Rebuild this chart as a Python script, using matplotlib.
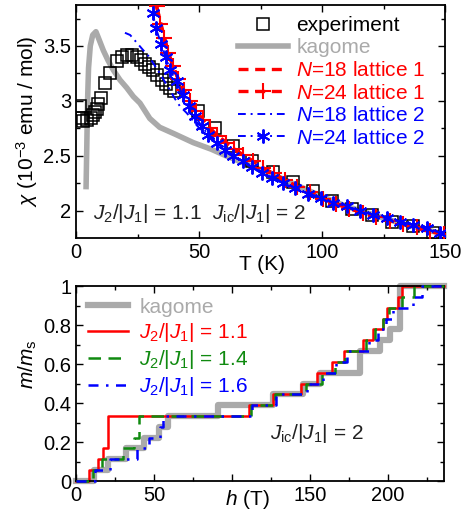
import matplotlib
matplotlib.use('Agg')
import matplotlib.pyplot as plt
from matplotlib.legend_handler import HandlerLine2D
from matplotlib.ticker import MultipleLocator, FuncFormatter

# ---------------- data: susceptibility ----------------
exp_T = [1.6, 2.3, 3.0, 4.6, 6.3, 7.0, 7.7, 8.5, 9.1, 10.0, 11.8, 13.8, 16.5, 18.6,
         20.6, 22.6, 24.7, 26.3, 28.0, 29.7, 31.4, 32.8, 34.8, 36.6, 38.2, 40.0,
         49.7, 56.5, 63.8, 71.4, 80.0, 88.3, 96.5, 103.9, 112.0, 120.2, 128.3,
         137.1, 145.3]
exp_chi = [2.95, 2.84, 2.82, 2.83, 2.84, 2.87, 2.90, 2.93, 2.97, 3.03, 3.16, 3.25,
           3.36, 3.40, 3.42, 3.42, 3.40, 3.37, 3.34, 3.31, 3.28, 3.24, 3.19, 3.15,
           3.12, 3.09, 2.91, 2.75, 2.59, 2.45, 2.35, 2.26, 2.18, 2.09, 2.02, 1.96,
           1.90, 1.86, 1.80]

kag_T = [4.1, 4.4, 4.7, 5.1, 5.8, 6.8, 8.1, 9.0, 11.1, 13.0, 15.2, 17.9, 20.6, 23.3,
         26.0, 28.0, 30.0, 34.0, 40.0, 47.7, 55.0, 61.0, 72.0, 80.0, 90.0, 100.0,
         110.0, 120.0, 130.0, 140.0, 150.0]
kag_chi = [2.22, 2.60, 3.00, 3.30, 3.50, 3.60, 3.63, 3.58, 3.46, 3.37, 3.28, 3.19,
           3.12, 3.04, 2.98, 2.91, 2.84, 2.76, 2.70, 2.62, 2.56, 2.50, 2.40, 2.33,
           2.23, 2.13, 2.04, 1.97, 1.90, 1.84, 1.785]

l1n18_T = [32.8, 34.8, 36.6, 38.2, 40.2, 42.3, 45.0, 47.7, 50.4, 53.8, 57.2, 61.3,
           66.7, 72.1, 77.5, 85.6, 97.8, 111.4, 124.9, 138.5, 150.0]
l1n18_chi = [3.86, 3.68, 3.52, 3.39, 3.27, 3.16, 3.04, 2.95, 2.86, 2.77, 2.69, 2.62,
             2.52, 2.45, 2.37, 2.27, 2.13, 2.02, 1.93, 1.84, 1.78]

l1n24_T = [32.8, 34.3, 35.9, 37.6, 39.4, 41.6, 43.8, 46.2, 48.8, 51.5, 54.3, 57.5,
           60.8, 64.3, 68.0, 72.0, 76.0, 80.3, 85.0, 90.0, 95.0, 100.3, 105.7, 111.0,
           116.5, 122.0, 127.5, 133.0, 138.5, 144.0, 149.5]
l1n24_chi = [3.86, 3.70, 3.57, 3.44, 3.32, 3.20, 3.10, 3.00, 2.91, 2.83, 2.75, 2.68,
             2.62, 2.56, 2.51, 2.45, 2.39, 2.34, 2.28, 2.22, 2.17, 2.11, 2.06, 2.02,
             1.98, 1.94, 1.91, 1.88, 1.85, 1.82, 1.785]

l2n18_T = [19.9, 22.0, 24.7, 27.0, 29.4, 31.5, 34.1, 36.5, 38.2, 40.2, 42.3, 45.0,
           49.0, 53.1, 58.0, 64.0, 72.0, 80.0, 90.0, 100.0, 110.0, 120.0, 130.0,
           140.0, 150.0]
l2n18_chi = [3.62, 3.60, 3.53, 3.47, 3.41, 3.34, 3.25, 3.16, 3.10, 3.02, 2.95, 2.89,
             2.78, 2.68, 2.60, 2.50, 2.40, 2.30, 2.20, 2.11, 2.04, 1.97, 1.91, 1.85,
             1.79]

l2n24_T = [31.2, 32.5, 34.6, 36.5, 38.2, 40.9, 43.4, 45.9, 48.4, 51.1, 53.8, 57.2,
           60.6, 63.9, 67.8, 71.4, 75.5, 79.5, 84.3, 89.0, 94.4, 99.5, 104.6, 110.0,
           115.4, 120.9, 126.3, 131.7, 137.1, 142.6, 148.0]
l2n24_chi = [3.80, 3.66, 3.52, 3.40, 3.28, 3.18, 3.05, 2.95, 2.86, 2.77, 2.69, 2.62,
             2.55, 2.50, 2.45, 2.40, 2.34, 2.30, 2.25, 2.21, 2.15, 2.12, 2.07, 2.04,
             2.00, 1.96, 1.93, 1.90, 1.87, 1.84, 1.80]

# ---------------- data: magnetization steps ----------------
kag_h = [0, 11.8, 20.3, 32.0, 43.8, 53.4, 58.8, 91.2, 126.5, 145.7, 156.4, 182.0,
         194.7, 201.3, 207.5, 236]
kag_m = [0, 0.056, 0.111, 0.167, 0.222, 0.278, 0.333, 0.389, 0.444, 0.5, 0.556,
         0.667, 0.722, 0.778, 1.0, 1.0]

r_h = [0, 8.5, 13.9, 17.1, 20.7, 111.0, 126.5, 144.4, 154.7, 164.0, 172.0, 184.2,
       190.2, 197.0, 199.5, 206.3, 209.0, 236]
r_m = [0, 0.056, 0.111, 0.167, 0.333, 0.389, 0.444, 0.5, 0.556, 0.611, 0.667,
       0.722, 0.778, 0.833, 0.889, 0.944, 1.0, 1.0]

g_h = [0, 11.1, 16.5, 30.3, 37.2, 40.4, 112.0, 127.6, 147.2, 157.5, 166.4, 172.4,
       186.0, 191.5, 197.0, 200.5, 209.0, 217.0, 236]
g_m = [0, 0.056, 0.111, 0.167, 0.222, 0.333, 0.389, 0.444, 0.5, 0.556, 0.611,
       0.667, 0.722, 0.778, 0.833, 0.889, 0.944, 1.0, 1.0]

b_h = [0, 12.2, 22.0, 39.0, 46.6, 53.6, 55.5, 113.0, 128.0, 148.0, 158.5, 167.0,
       173.5, 188.0, 193.5, 199.0, 203.0, 216.0, 222.0, 236]
b_m = [0, 0.056, 0.111, 0.167, 0.222, 0.278, 0.333, 0.389, 0.444, 0.5, 0.556,
       0.611, 0.667, 0.722, 0.778, 0.833, 0.889, 0.944, 1.0, 1.0]

# ---------------- style ----------------
plt.rcParams.update({
    'font.family': ['Liberation Sans', 'DejaVu Sans'],
    'mathtext.fontset': 'custom',
    'mathtext.rm': 'Liberation Sans',
    'mathtext.it': 'Liberation Sans:italic',
    'mathtext.bf': 'Liberation Sans:bold',
    'font.size': 15,
    'xtick.labelsize': 14.5, 'ytick.labelsize': 14.5,
    'xtick.direction': 'in', 'ytick.direction': 'in',
    'xtick.top': True, 'ytick.right': True,
    'xtick.major.size': 5, 'ytick.major.size': 5,
    'xtick.minor.size': 3, 'ytick.minor.size': 3,
    'xtick.major.width': 1.0, 'ytick.major.width': 1.0,
    'xtick.minor.width': 1.0, 'ytick.minor.width': 1.0,
    'axes.linewidth': 1.3,
})
GRAY = '#aaaaaa'
RED = '#ff0000'
BLUE = '#0000ff'
GREEN = '#108a10'

fig = plt.figure(figsize=(4.64, 5.11), dpi=100)
ax1 = fig.add_axes([76/464, 1-238/511, 369/464, 233/511])
ax2 = fig.add_axes([76/464, 1-481/511, 368/464, 195/511])

fmt = FuncFormatter(lambda v, p: '%g' % v)

# ---- top panel ----
hk, = ax1.plot(kag_T, kag_chi, color=GRAY, lw=4, label='kagome', zorder=1)
he, = ax1.plot(exp_T, exp_chi, ls='none', marker='s', ms=8, mfc='none', mec='k',
               mew=1.1, label='experiment', zorder=2)
hr18, = ax1.plot(l1n18_T, l1n18_chi, color=RED, ls=(0, (3, 2)), lw=2.4,
                 label='$N$=18 lattice 1', zorder=3)
hr24, = ax1.plot(l1n24_T, l1n24_chi, color=RED, ls=(0, (3, 2)), lw=2.4, marker='+',
                 ms=11, mew=1.5, label='$N$=24 lattice 1', zorder=3)
hb18, = ax1.plot(l2n18_T, l2n18_chi, color=BLUE, ls=(0, (4, 2.5, 1, 2.5)), lw=1.4,
                 label='$N$=18 lattice 2', zorder=4)
hb24, = ax1.plot(l2n24_T, l2n24_chi, color=BLUE, ls=(0, (4, 2.5, 1, 2.5)), lw=1.4,
                 marker=(6, 2, 0), ms=10, mew=1.4, label='$N$=24 lattice 2', zorder=5)

ax1.set_xlim(0, 150)
ax1.set_ylim(1.752, 3.873)
ax1.xaxis.set_major_locator(MultipleLocator(50))
ax1.xaxis.set_minor_locator(MultipleLocator(25))
ax1.yaxis.set_major_locator(MultipleLocator(0.5))
ax1.yaxis.set_minor_locator(MultipleLocator(0.25))
ax1.yaxis.set_major_formatter(fmt)
ax1.tick_params(which='both', top=True, right=True)
ax1.set_xlabel('T (K)')
ax1.xaxis.set_label_coords(0.504, -0.075)
ax1.set_ylabel(r'$\chi$ (10$^{-3}$ emu / mol)')
ax1.yaxis.set_label_coords(-0.097, 0.5)

leg1 = ax1.legend([he, hk, hr18, hr24, hb18, hb24],
                  ['experiment', 'kagome', '$N$=18 lattice 1', '$N$=24 lattice 1',
                   '$N$=18 lattice 2', '$N$=24 lattice 2'],
                  loc='upper left', bbox_to_anchor=(0.439, 0.953), frameon=False,
                  borderpad=0, borderaxespad=0, handlelength=2.4, handletextpad=0.4,
                  labelspacing=0.17,
                  handler_map={he: HandlerLine2D(numpoints=1)})
for t, c in zip(leg1.get_texts(), ['k', GRAY, RED, RED, BLUE, BLUE]):
    t.set_color(c)

ax1.text(0.046, 0.107, r'$J_2/|J_1|$ = 1.1  $J_{\mathrm{ic}}/|J_1|$ = 2',
         transform=ax1.transAxes, va='center', ha='left', color='#222222')

# ---- bottom panel ----
ax2.plot(kag_h, kag_m, drawstyle='steps-post', color=GRAY, lw=4.5, label='kagome',
         zorder=1, clip_on=False)
ax2.plot(r_h, r_m, drawstyle='steps-post', color=RED, lw=1.8,
         label=r'$J_2/|J_1|$ = 1.1', zorder=2, clip_on=False)
ax2.plot(g_h, g_m, drawstyle='steps-post', color=GREEN, lw=1.8, ls=(0, (5, 3)),
         label=r'$J_2/|J_1|$ = 1.4', zorder=3, clip_on=False)
ax2.plot(b_h, b_m, drawstyle='steps-post', color=BLUE, lw=1.8, ls=(0, (4, 3, 1, 3)),
         label=r'$J_2/|J_1|$ = 1.6', zorder=4, clip_on=False)

ax2.set_xlim(0, 236)
ax2.set_ylim(0, 1)
ax2.xaxis.set_major_locator(MultipleLocator(50))
ax2.xaxis.set_minor_locator(MultipleLocator(25))
ax2.yaxis.set_major_locator(MultipleLocator(0.2))
ax2.yaxis.set_minor_locator(MultipleLocator(0.1))
ax2.yaxis.set_major_formatter(fmt)
ax2.xaxis.set_major_formatter(FuncFormatter(lambda v, p: '' if abs(v - 100) < 1e-6 else '%g' % v))
ax2.tick_params(which='both', top=True, right=True)
ax2.set_xlabel('$h$ (T)')
ax2.xaxis.set_label_coords(0.465, -0.035)
ax2.set_ylabel(r'$m/m_{\mathrm{s}}$')
ax2.yaxis.set_label_coords(-0.1, 0.6)

leg2 = ax2.legend(loc='upper left', bbox_to_anchor=(0.033, 0.94), frameon=False,
                  borderpad=0, borderaxespad=0, handlelength=1.9, handletextpad=0.55,
                  labelspacing=0.2)
for t, c in zip(leg2.get_texts(), [GRAY, RED, GREEN, BLUE]):
    t.set_color(c)

ax2.text(0.527, 0.246, r'$J_{\mathrm{ic}}/|J_1|$ = 2', transform=ax2.transAxes,
         va='center', ha='left', color='#222222')

fig.savefig('out.png', dpi=100)
